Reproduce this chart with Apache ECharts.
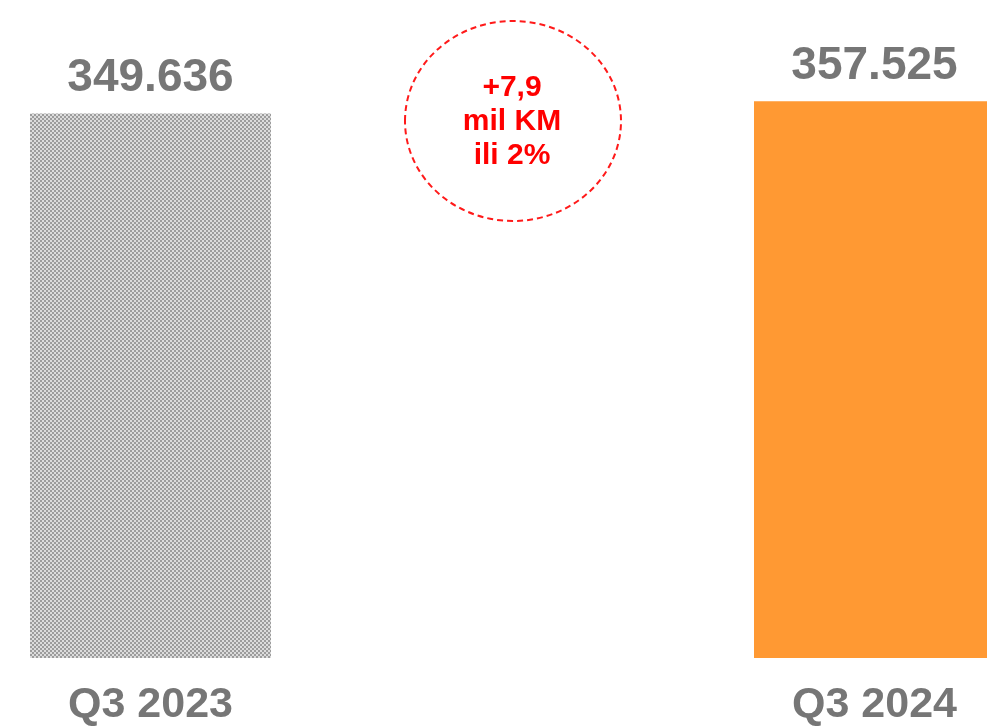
<!DOCTYPE html>
<html>
<head>
<meta charset="utf-8">
<script src="https://cdn.jsdelivr.net/npm/echarts@6/dist/echarts.min.js"></script>
<style>
  html, body { margin: 0; padding: 0; background: #fff; }
  #main { width: 987px; height: 727px; }
</style>
</head>
<body>
<div id="main"></div>
<script>
// data
var categories = ['Q3 2023', 'Q3 2024'];
var values = [349636, 357525];
var valueLabels = ['349.636', '357.525'];
var changeText = ['+7,9', 'mil KM', 'ili 2%'];

// checkered grey fill for the first bar
function makeChecker() {
  var c = document.createElement('canvas');
  c.width = 4; c.height = 4;
  var ctx = c.getContext('2d');
  ctx.fillStyle = '#dcdcdc';
  ctx.fillRect(0, 0, 4, 4);
  ctx.fillStyle = '#9c9c9c';
  ctx.fillRect(0, 0, 2, 2);
  ctx.fillRect(2, 2, 2, 2);
  return c;
}

var barColors = [{ image: makeChecker(), repeat: 'repeat' }, '#ff9933'];

var myChart = echarts.init(document.getElementById('main'));

var option = {
  animation: false,
  backgroundColor: '#ffffff',
  grid: {
    left: 150.5,
    width: 724,
    top: 35,
    bottom: 66,
    containLabel: false
  },
  xAxis: {
    type: 'category',
    data: categories,
    boundaryGap: false,
    axisLine: { show: false },
    axisTick: { show: false },
    axisLabel: {
      margin: 26,
      color: '#767676',
      fontFamily: 'Liberation Sans, Arial, sans-serif',
      fontWeight: 'bold',
      fontSize: 43
    }
  },
  yAxis: {
    type: 'value',
    min: 0,
    max: 400000,
    show: false,
    splitLine: { show: false }
  },
  series: [{
    type: 'bar',
    barWidth: 241,
    clip: false,
    data: values.map(function (v, i) {
      return { value: v, itemStyle: { color: barColors[i] } };
    }),
    label: {
      show: true,
      position: 'top',
      distance: 12,
      color: '#767676',
      fontFamily: 'Liberation Sans, Arial, sans-serif',
      fontWeight: 'bold',
      fontSize: 46,
      formatter: function (p) { return valueLabels[p.dataIndex]; }
    }
  }],
  graphic: [
    {
      type: 'ellipse',
      shape: { cx: 513, cy: 121, rx: 108, ry: 100 },
      style: {
        fill: 'none',
        stroke: '#ff1a1a',
        lineWidth: 2,
        lineDash: [6, 4]
      }
    },
    {
      type: 'text',
      x: 512,
      y: 122,
      style: {
        text: changeText.join('\n'),
        fill: '#ff0000',
        font: 'bold 30px "Liberation Sans", Arial, sans-serif',
        lineHeight: 34,
        align: 'center',
        verticalAlign: 'middle'
      }
    }
  ]
};

myChart.setOption(option);
</script>
</body>
</html>
